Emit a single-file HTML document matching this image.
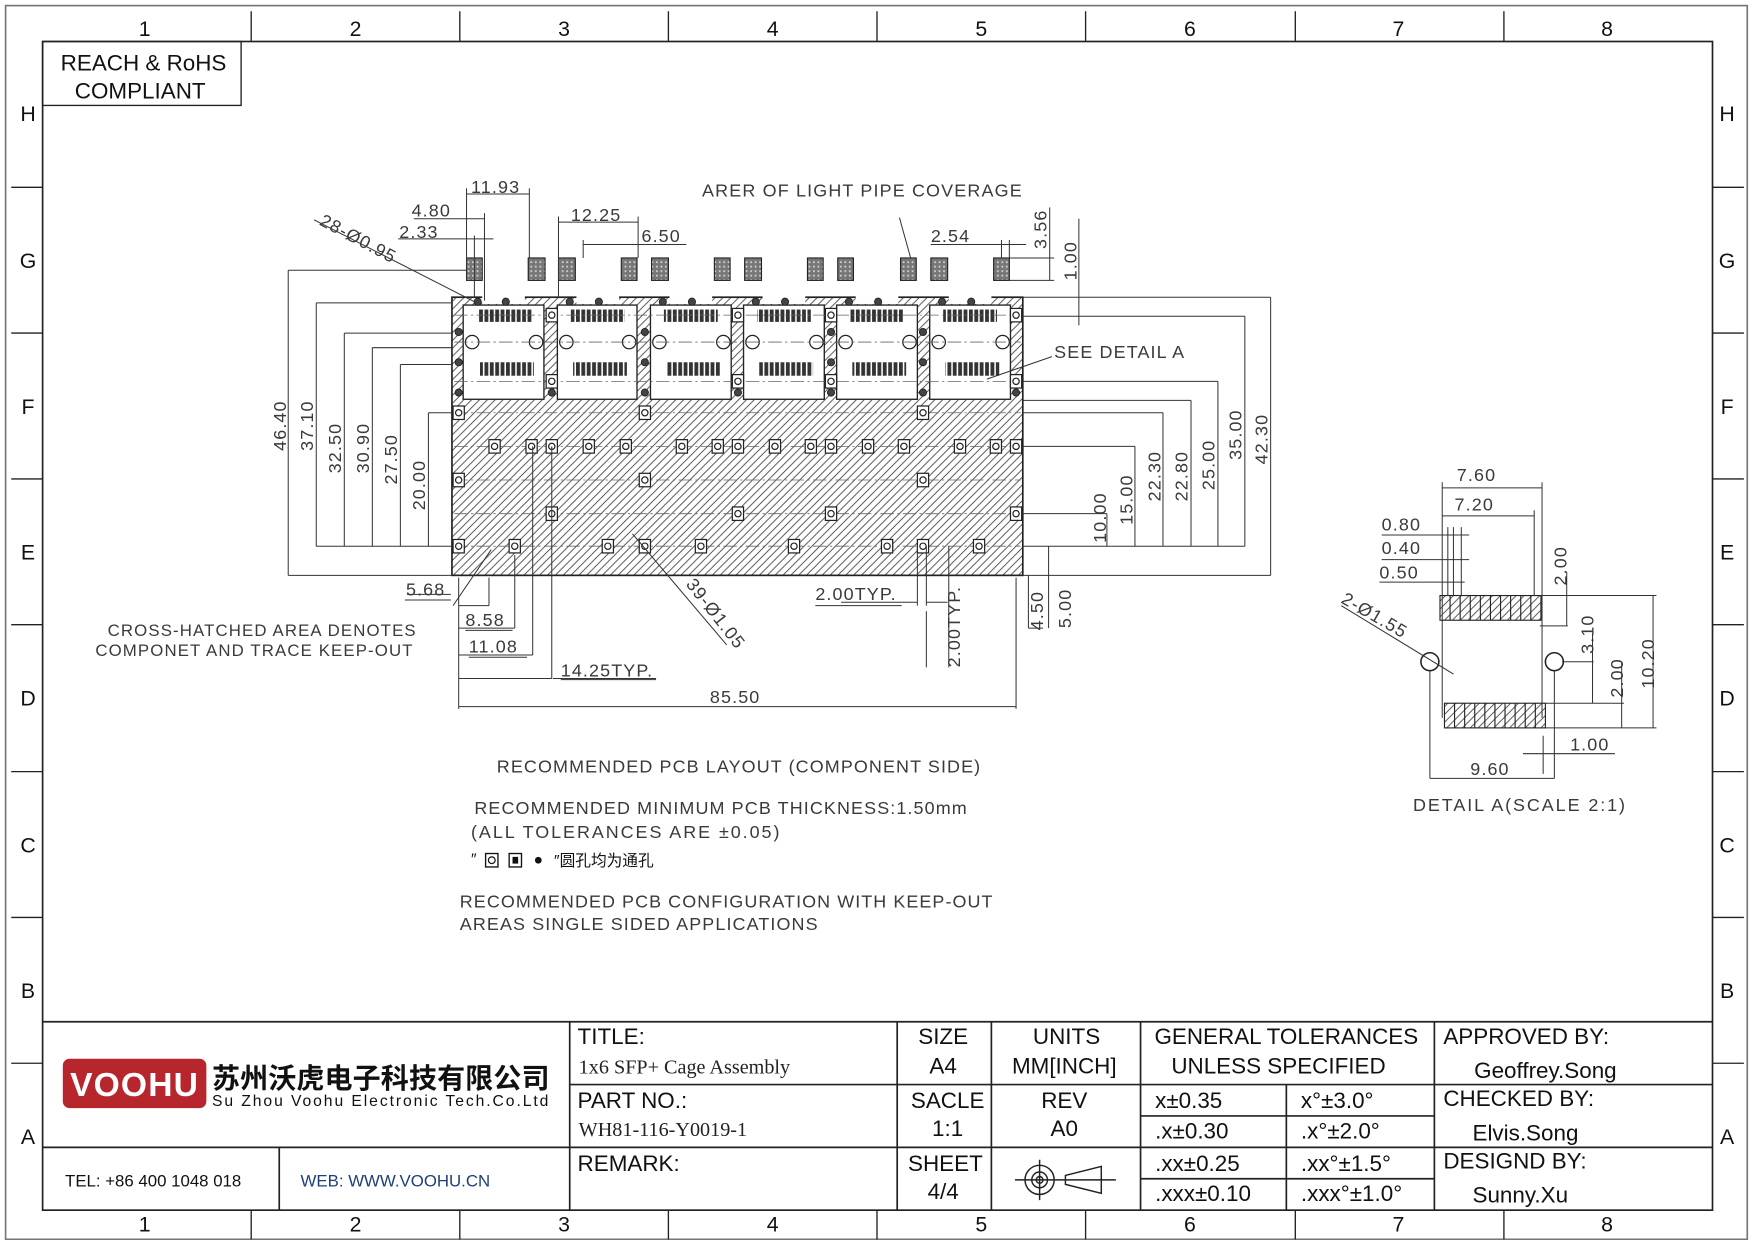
<!DOCTYPE html>
<html><head><meta charset="utf-8"><style>
html,body{margin:0;padding:0;background:#fff}
svg{display:block}
.c{font-family:"Liberation Sans","Noto Sans CJK SC",sans-serif;fill:#3a3a3a;letter-spacing:1px}
.t{font-family:"Liberation Sans","Noto Sans CJK SC",sans-serif;fill:#111}
.s{font-family:"Liberation Serif",serif;fill:#222}
</style></head><body>
<svg width="1754" height="1240" viewBox="0 0 1564 1105.6" preserveAspectRatio="none" xmlns="http://www.w3.org/2000/svg">
<defs>
<pattern id="h" patternUnits="userSpaceOnUse" width="7" height="7"><path d="M-1,8 L8,-1 M-1,1 L1,-1 M6,8 L8,6" stroke="#444" stroke-width="0.8"/></pattern>
<pattern id="pd" patternUnits="userSpaceOnUse" width="4.8" height="20"><rect x="0" y="0" width="3.4" height="20" fill="#333"/></pattern>
<pattern id="st" patternUnits="userSpaceOnUse" width="4" height="4"><rect width="4" height="4" fill="#777"/><rect x="1" y="1" width="1.5" height="1.5" fill="#ddd"/></pattern>
<g id="sq"><rect x="-5" y="-6" width="10" height="12" fill="#fff" stroke="#222" stroke-width="1.1"/><circle r="2.8" fill="none" stroke="#222" stroke-width="1.1"/></g>
<g id="dt"><circle r="3.2" fill="#444" stroke="#222" stroke-width="0.8"/></g>
</defs>
<rect width="1564" height="1106" fill="#fff"/>
<!-- frame -->
<rect x="5" y="5" width="1553" height="1100" fill="none" stroke="#777" stroke-width="1.5"/>
<rect x="38" y="37" width="1489" height="1042" fill="none" stroke="#222" stroke-width="1.5"/>
<g stroke="#222" stroke-width="1.2">
<path d="M224,10V37M410,10V37M596,10V37M782,10V37M968,10V37M1155,10V37M1341,10V37"/>
<path d="M224,1079V1105M410,1079V1105M596,1079V1105M782,1079V1105M968,1079V1105M1155,1079V1105M1341,1079V1105"/>
<path d="M10,167H38M10,297H38M10,427H38M10,557H38M10,688H38M10,818H38M10,948H38"/>
<path d="M1527,167H1555M1527,297H1555M1527,427H1555M1527,557H1555M1527,688H1555M1527,818H1555M1527,948H1555"/>
</g>
<g class="t" font-size="19" text-anchor="middle">
<text x="129" y="32">1</text><text x="317" y="32">2</text><text x="503" y="32">3</text><text x="689" y="32">4</text><text x="875" y="32">5</text><text x="1061" y="32">6</text><text x="1247" y="32">7</text><text x="1433" y="32">8</text>
<text x="129" y="1098">1</text><text x="317" y="1098">2</text><text x="503" y="1098">3</text><text x="689" y="1098">4</text><text x="875" y="1098">5</text><text x="1061" y="1098">6</text><text x="1247" y="1098">7</text><text x="1433" y="1098">8</text>
<text x="25" y="108">H</text><text x="25" y="239">G</text><text x="25" y="369">F</text><text x="25" y="499">E</text><text x="25" y="629">D</text><text x="25" y="760">C</text><text x="25" y="890">B</text><text x="25" y="1020">A</text>
<text x="1540" y="108">H</text><text x="1540" y="239">G</text><text x="1540" y="369">F</text><text x="1540" y="499">E</text><text x="1540" y="629">D</text><text x="1540" y="760">C</text><text x="1540" y="890">B</text><text x="1540" y="1020">A</text>
</g>
<rect x="38" y="37" width="177" height="57" fill="none" stroke="#222" stroke-width="1.2"/>
<text class="t" x="128" y="63" font-size="20" text-anchor="middle">REACH &amp; RoHS</text>
<text class="t" x="125" y="88" font-size="20" text-anchor="middle">COMPLIANT</text>

<!-- main body -->
<rect x="403" y="265" width="509" height="248" fill="url(#h)" stroke="#222" stroke-width="1.5"/>
<g fill="#fff" stroke="#222" stroke-width="1.2">
<rect x="413" y="272" width="72" height="84"/><rect x="497" y="272" width="71" height="84"/><rect x="580" y="272" width="72" height="84"/><rect x="663" y="272" width="72" height="84"/><rect x="746" y="272" width="72" height="84"/><rect x="829" y="272" width="72" height="84"/>
</g>
<g fill="#fff"><rect x="430" y="263" width="38" height="8"/><rect x="514" y="263" width="38" height="8"/><rect x="597" y="263" width="38" height="8"/><rect x="680" y="263" width="38" height="8"/><rect x="763" y="263" width="38" height="8"/><rect x="846" y="263" width="38" height="8"/></g>
<!-- pads -->
<g fill="url(#pd)">
<rect x="426" y="276" width="48" height="11"/><rect x="509" y="276" width="48" height="11"/><rect x="592" y="276" width="48" height="11"/><rect x="675" y="276" width="48" height="11"/><rect x="758" y="276" width="48" height="11"/><rect x="841" y="276" width="48" height="11"/>
<rect x="428" y="323" width="48" height="12"/><rect x="511" y="323" width="48" height="12"/><rect x="594" y="323" width="48" height="12"/><rect x="677" y="323" width="48" height="12"/><rect x="760" y="323" width="48" height="12"/><rect x="843" y="323" width="48" height="12"/>
</g>
<g fill="none" stroke="#222" stroke-width="1.1">
<circle cx="421" cy="305" r="6"/><circle cx="478" cy="305" r="6"/><circle cx="505" cy="305" r="6"/><circle cx="561" cy="305" r="6"/><circle cx="588" cy="305" r="6"/><circle cx="645" cy="305" r="6"/><circle cx="671" cy="305" r="6"/><circle cx="728" cy="305" r="6"/><circle cx="754" cy="305" r="6"/><circle cx="811" cy="305" r="6"/><circle cx="837" cy="305" r="6"/><circle cx="894" cy="305" r="6"/>
</g>
<!-- center lines -->
<g stroke="#666" stroke-width="0.7" stroke-dasharray="12,3,2,3" fill="none">
<path d="M405,305H910M405,281H910M405,340H910M405,368H910M405,398H910M405,428H910M405,458H910M405,487H910"/>
</g>
<!-- dots -->
<g>
<use href="#dt" x="426" y="269"/><use href="#dt" x="451" y="269"/><use href="#dt" x="534" y="269"/><use href="#dt" x="617" y="269"/><use href="#dt" x="700" y="269"/><use href="#dt" x="783" y="269"/><use href="#dt" x="866" y="269"/><use href="#dt" x="508" y="269"/><use href="#dt" x="591" y="269"/><use href="#dt" x="674" y="269"/><use href="#dt" x="757" y="269"/><use href="#dt" x="840" y="269"/>
<use href="#dt" x="409" y="296"/><use href="#dt" x="409" y="323"/><use href="#dt" x="409" y="350"/>
<use href="#dt" x="575" y="296"/><use href="#dt" x="575" y="323"/><use href="#dt" x="575" y="350"/>
<use href="#dt" x="741" y="296"/><use href="#dt" x="741" y="323"/><use href="#dt" x="741" y="350"/>
<use href="#dt" x="823" y="296"/><use href="#dt" x="823" y="323"/><use href="#dt" x="823" y="350"/>
<use href="#dt" x="492" y="350"/><use href="#dt" x="658" y="350"/><use href="#dt" x="906" y="350"/>
</g>
<g>
<use href="#sq" x="492" y="281"/><use href="#sq" x="492" y="340"/><use href="#sq" x="658" y="281"/><use href="#sq" x="658" y="340"/><use href="#sq" x="741" y="281"/><use href="#sq" x="741" y="340"/><use href="#sq" x="906" y="281"/><use href="#sq" x="906" y="340"/>
<use href="#sq" x="409" y="368"/><use href="#sq" x="575" y="368"/><use href="#sq" x="823" y="368"/>
<use href="#sq" x="441" y="398"/><use href="#sq" x="474" y="398"/><use href="#sq" x="492" y="398"/><use href="#sq" x="525" y="398"/><use href="#sq" x="558" y="398"/><use href="#sq" x="608" y="398"/><use href="#sq" x="640" y="398"/><use href="#sq" x="658" y="398"/><use href="#sq" x="691" y="398"/><use href="#sq" x="723" y="398"/><use href="#sq" x="741" y="398"/><use href="#sq" x="774" y="398"/><use href="#sq" x="806" y="398"/><use href="#sq" x="856" y="398"/><use href="#sq" x="888" y="398"/><use href="#sq" x="906" y="398"/>
<use href="#sq" x="409" y="428"/><use href="#sq" x="575" y="428"/><use href="#sq" x="823" y="428"/>
<use href="#sq" x="492" y="458"/><use href="#sq" x="658" y="458"/><use href="#sq" x="741" y="458"/><use href="#sq" x="906" y="458"/>
<use href="#sq" x="409" y="487"/><use href="#sq" x="459" y="487"/><use href="#sq" x="542" y="487"/><use href="#sq" x="575" y="487"/><use href="#sq" x="625" y="487"/><use href="#sq" x="708" y="487"/><use href="#sq" x="791" y="487"/><use href="#sq" x="823" y="487"/><use href="#sq" x="873" y="487"/>
</g>
<!-- light pipe squares -->
<g fill="url(#st)" stroke="#222" stroke-width="1">
<rect x="416" y="230" width="14" height="20"/><rect x="471" y="230" width="15" height="20"/><rect x="498" y="230" width="15" height="20"/><rect x="554" y="230" width="14" height="20"/><rect x="581" y="230" width="15" height="20"/><rect x="637" y="230" width="14" height="20"/><rect x="664" y="230" width="15" height="20"/><rect x="720" y="230" width="14" height="20"/><rect x="747" y="230" width="14" height="20"/><rect x="803" y="230" width="14" height="20"/><rect x="830" y="230" width="15" height="20"/><rect x="886" y="230" width="14" height="20"/>
</g>
<!-- dimension lines -->
<g stroke="#333" stroke-width="0.9" fill="none">
<path d="M257,241H416M257,241V513M257,513H403"/>
<path d="M282,270H403M282,270V487M307,297H403M307,297V487M332,310H403M332,310V487M357,325H403M357,325V487M382,368H403M382,368V487"/>
<path d="M282,487H403"/>
<path d="M912,265H1133M1133,265V513M912,513H1133M912,282H1110M1110,282V487M912,340H1086M1086,340V487M912,357H1062M1062,357V487M912,368H1037M1037,368V487M912,398H1012M1012,398V487M912,458H987M987,458V487M912,487H1110"/>
<path d="M962,195V282M900,230H940M900,250H940M936,185V250M962,280V290"/>
<path d="M416,173H472M416,168V250M472,168V230M355,213H440M423,210V265M369,195H432M432,190V268"/>
<path d="M498,198H569M498,193V265M569,193V230M520,218H612M520,214V230"/>
<path d="M830,218H915M893,214V230M900,214V230"/>
<path d="M409,515V632M409,630H906M906,515V632M409,540H436M436,515V540M409,560H459M459,495V560M409,584H475M475,398V584M409,605H492M492,398V605M493,605H585"/>
<path d="M361,535H402M404,540L438,490"/>
<path d="M818,487V540M826,487V540M750,537H818M826,537H845M846,487V595"/>
<path d="M917,513V560M935,487V560M917,560H930"/>
<path d="M280,196L425,270"/>
<path d="M564,476L648,575"/>
<path d="M802,194L812,230"/>
<path d="M938,318L880,338"/>
<path d="M363,530H402M415,562H457M418,586H470M500,606H585M727,540H804M826,545V595"/>
</g>
<g class="c" font-size="16">
<text x="420" y="172">11.93</text>
<text x="367" y="193">4.80</text>
<text x="356" y="212">2.33</text>
<text x="509" y="197">12.25</text>
<text x="572" y="216">6.50</text>
<text x="830" y="216">2.54</text>
<text x="626" y="175" textLength="286">ARER OF LIGHT PIPE COVERAGE</text>
<text x="940" y="319">SEE DETAIL A</text>
<text x="362" y="531">5.68</text>
<text x="415" y="558">8.58</text>
<text x="418" y="582">11.08</text>
<text x="500" y="603">14.25TYP.</text>
<text x="633" y="627">85.50</text>
<text x="727" y="535">2.00TYP.</text>
<text x="96" y="567" font-size="15">CROSS-HATCHED AREA DENOTES</text>
<text x="85" y="585" font-size="15">COMPONET AND TRACE KEEP-OUT</text>
<text transform="translate(284,200) rotate(28)">28-Ø0.95</text>
<text transform="translate(611,521) rotate(52)">39-Ø1.05</text>
<text transform="translate(255,402) rotate(-90)">46.40</text>
<text transform="translate(279,402) rotate(-90)">37.10</text>
<text transform="translate(304,422) rotate(-90)">32.50</text>
<text transform="translate(329,422) rotate(-90)">30.90</text>
<text transform="translate(354,432) rotate(-90)">27.50</text>
<text transform="translate(379,455) rotate(-90)">20.00</text>
<text transform="translate(986,484) rotate(-90)">10.00</text>
<text transform="translate(1010,468) rotate(-90)">15.00</text>
<text transform="translate(1035,447) rotate(-90)">22.30</text>
<text transform="translate(1059,447) rotate(-90)">22.80</text>
<text transform="translate(1083,437) rotate(-90)">25.00</text>
<text transform="translate(1107,410) rotate(-90)">35.00</text>
<text transform="translate(1130,414) rotate(-90)">42.30</text>
<text transform="translate(933,222) rotate(-90)">3.56</text>
<text transform="translate(960,250) rotate(-90)">1.00</text>
<text transform="translate(856,595) rotate(-90)">2.00TYP.</text>
<text transform="translate(930,562) rotate(-90)">4.50</text>
<text transform="translate(955,560) rotate(-90)">5.00</text>
<text x="443" y="689" textLength="432">RECOMMENDED PCB LAYOUT (COMPONENT SIDE)</text>
<text x="423" y="726" textLength="440">RECOMMENDED MINIMUM PCB THICKNESS:1.50mm</text>
<text x="420" y="747" textLength="276">(ALL TOLERANCES ARE ±0.05)</text>
<text x="410" y="809" textLength="476">RECOMMENDED PCB CONFIGURATION WITH KEEP-OUT</text>
<text x="410" y="829" textLength="320">AREAS SINGLE SIDED APPLICATIONS</text>
<text x="1260" y="723" textLength="190">DETAIL A(SCALE 2:1)</text>
<text x="1299" y="429">7.60</text>
<text x="1297" y="455">7.20</text>
<text x="1232" y="473">0.80</text>
<text x="1232" y="494">0.40</text>
<text x="1230" y="516">0.50</text>
<text x="1400" y="669">1.00</text>
<text x="1311" y="691">9.60</text>
<text transform="translate(1195,537) rotate(30)">2-Ø1.55</text>
<text transform="translate(1397,522) rotate(-90)">2.00</text>
<text transform="translate(1421,583) rotate(-90)">3.10</text>
<text transform="translate(1447,622) rotate(-90)">2.00</text>
<text transform="translate(1475,614) rotate(-90)">10.20</text>
</g>
<g>
<text x="420" y="771" class="t" font-size="14">″</text>
<rect x="433" y="761" width="11" height="12" fill="none" stroke="#111" stroke-width="1.2"/><circle cx="438.5" cy="767" r="3" fill="none" stroke="#111" stroke-width="1.1"/>
<rect x="454" y="761" width="11" height="12" fill="none" stroke="#111" stroke-width="1.2"/><rect x="457" y="764" width="5" height="6" fill="#111"/>
<circle cx="480" cy="767" r="3" fill="#111"/>
<text x="494" y="772" class="t" font-size="14" font-family="'Noto Serif CJK SC','Noto Sans CJK SC',serif">″圆孔均为通孔</text>
</g>
<!-- detail A -->
<g stroke="#333" stroke-width="0.9" fill="none">
<path d="M1286,435H1375M1286,430V531M1375,430V640M1286,460H1368M1368,455V531M1232,477H1310M1232,499H1310M1230,519H1306M1291,470V531M1296,470V531M1303,470V531M1286,531V640"/>
<path d="M1373,531H1477M1373,558H1398M1397,510V558M1393,590H1421M1420,565V627M1378,627H1448M1378,649H1477M1446,590V649M1474,531V649"/>
<path d="M1275,598V694M1386,598V694M1275,694H1386M1376,656V690M1358,672H1440"/>
<path d="M1196,540L1296,601"/>
</g>
<rect x="1284" y="531" width="90" height="22" fill="url(#h)" stroke="#222" stroke-width="1"/>
<g stroke="#222" stroke-width="1"><path d="M1293,531V553M1302,531V553M1311,531V553M1320,531V553M1329,531V553M1338,531V553M1347,531V553M1356,531V553M1365,531V553"/></g>
<rect x="1288" y="627" width="90" height="22" fill="url(#h)" stroke="#222" stroke-width="1"/>
<g stroke="#222" stroke-width="1"><path d="M1297,627V649M1306,627V649M1315,627V649M1324,627V649M1333,627V649M1342,627V649M1351,627V649M1360,627V649M1369,627V649"/></g>
<g fill="none" stroke="#222" stroke-width="1.4"><circle cx="1275" cy="590" r="8"/><circle cx="1386" cy="590" r="8"/></g>

<!-- title block -->
<g stroke="#222" stroke-width="1.5" fill="none">
<path d="M38,911H1527M508,967H1527M38,1023H1527M249,1023V1079M508,911V1079M800,911V1079M884,911V1079M1017,911V1079M1147,967V1079M1279,911V1079M1017,995H1279M1017,1051H1279"/>
</g>
<rect x="56" y="944" width="128" height="44" rx="6" fill="#b7262c"/>
<text x="120" y="977" font-size="30" font-weight="bold" fill="#fff" text-anchor="middle" font-family="'Liberation Sans',sans-serif" letter-spacing="1">VOOHU</text>
<text x="189" y="970" class="t" font-size="25" font-weight="bold" textLength="301" font-family="'Noto Sans CJK SC','WenQuanYi Zen Hei',sans-serif">苏州沃虎电子科技有限公司</text>
<text x="189" y="986" class="t" font-size="14" textLength="300">Su Zhou Voohu Electronic Tech.Co.Ltd</text>
<text x="58" y="1058" class="t" font-size="15">TEL: +86 400 1048 018</text>
<text x="268" y="1058" font-size="15" fill="#1d3f7a" font-family="'Liberation Sans',sans-serif">WEB: WWW.VOOHU.CN</text>
<g class="t" font-size="20">
<text x="515" y="931">TITLE:</text>
<text x="515" y="988">PART NO.:</text>
<text x="515" y="1044">REMARK:</text>
<text x="841" y="931" text-anchor="middle">SIZE</text>
<text x="841" y="957" text-anchor="middle">A4</text>
<text x="951" y="931" text-anchor="middle">UNITS</text>
<text x="949" y="957" text-anchor="middle">MM[INCH]</text>
<text x="1147" y="931" text-anchor="middle">GENERAL TOLERANCES</text>
<text x="1140" y="957" text-anchor="middle">UNLESS SPECIFIED</text>
<text x="1287" y="931">APPROVED BY:</text>
<text x="1378" y="961" text-anchor="middle">Geoffrey.Song</text>
<text x="845" y="988" text-anchor="middle">SACLE</text>
<text x="845" y="1013" text-anchor="middle">1:1</text>
<text x="949" y="988" text-anchor="middle">REV</text>
<text x="949" y="1013" text-anchor="middle">A0</text>
<text x="1030" y="988">x±0.35</text>
<text x="1160" y="988">x°±3.0°</text>
<text x="1030" y="1015">.x±0.30</text>
<text x="1160" y="1015">.x°±2.0°</text>
<text x="1030" y="1044">.xx±0.25</text>
<text x="1160" y="1044">.xx°±1.5°</text>
<text x="1030" y="1071">.xxx±0.10</text>
<text x="1160" y="1071">.xxx°±1.0°</text>
<text x="1287" y="986">CHECKED BY:</text>
<text x="1313" y="1017">Elvis.Song</text>
<text x="843" y="1044" text-anchor="middle">SHEET</text>
<text x="841" y="1069" text-anchor="middle">4/4</text>
<text x="1287" y="1042">DESIGND BY:</text>
<text x="1313" y="1072">Sunny.Xu</text>
</g>
<text x="516" y="957" class="s" font-size="18">1x6 SFP+ Cage Assembly</text>
<text x="516" y="1013" class="s" font-size="18">WH81-116-Y0019-1</text>
<g stroke="#222" stroke-width="1.3" fill="none">
<circle cx="927" cy="1052" r="13"/><circle cx="927" cy="1052" r="7"/><circle cx="927" cy="1052" r="3"/>
<path d="M905,1052H995M927,1034V1070M950,1048L982,1040V1064L950,1056Z"/>
</g>
</svg>
</body></html>
